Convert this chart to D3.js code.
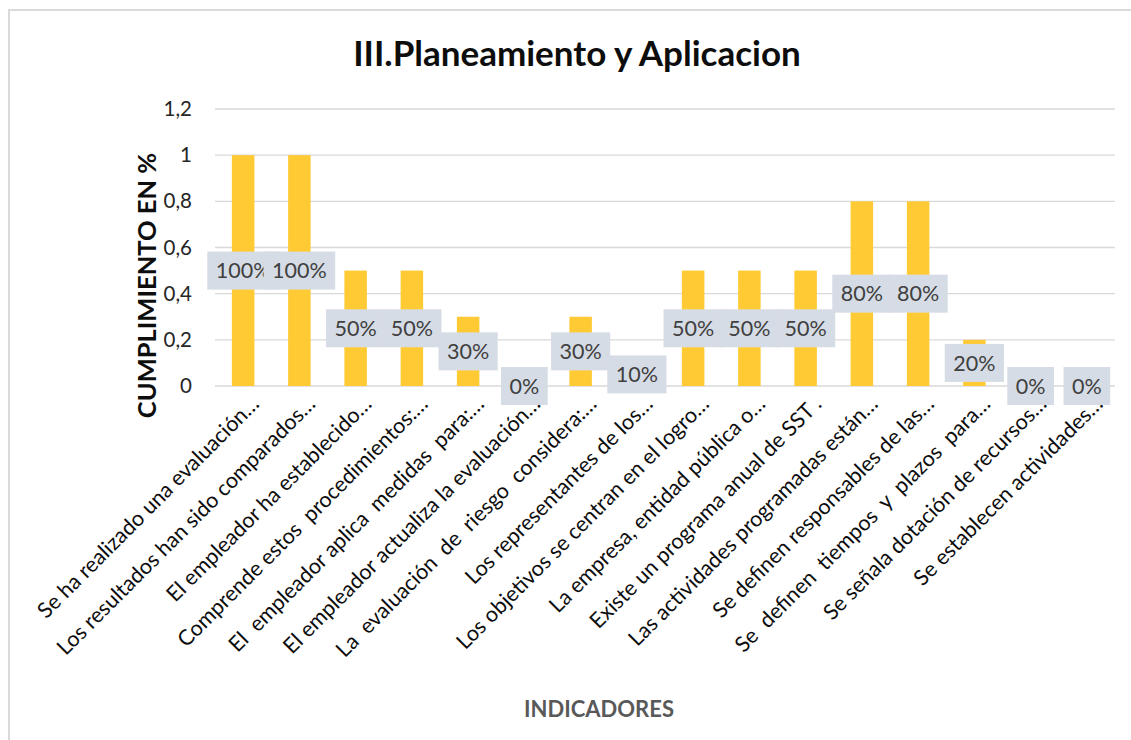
<!DOCTYPE html>
<html>
<head>
<meta charset="utf-8">
<script src="https://cdn.jsdelivr.net/npm/d3@7"></script>
<style>
  html, body { margin: 0; padding: 0; background: #fff; }
  svg { display: block; font-family: Lato, "Open Sans", sans-serif; }
</style>
</head>
<body>
<svg id="chart" width="1131" height="740"></svg>
<script>
// Indicators of section III (Planeamiento y Aplicacion) and their compliance ratio
const categories = [
  "Se ha realizado una evaluación…",
  "Los resultados han sido comparados…",
  "El empleador ha establecido…",
  "Comprende estos  procedimientos:…",
  "El  empleador aplica  medidas  para:…",
  "El empleador actualiza la evaluación…",
  "La  evaluación  de  riesgo  considera:…",
  "Los representantes de los…",
  "Los objetivos se centran en el logro…",
  "La empresa, entidad pública o…",
  "Existe un programa anual de SST .",
  "Las actividades programadas están…",
  "Se definen responsables de las…",
  "Se  definen  tiempos  y  plazos  para…",
  "Se señala dotación de recursos…",
  "Se establecen actividades…"
];
const values = [1, 1, 0.5, 0.5, 0.3, 0, 0.3, 0.1, 0.5, 0.5, 0.5, 0.8, 0.8, 0.2, 0, 0];
const yTicks = [0, 0.2, 0.4, 0.6, 0.8, 1, 1.2];
const yTickLabels = ["0", "0,2", "0,4", "0,6", "0,8", "1", "1,2"];

const svg = d3.select("#chart");
const plot = { left: 215, right: 1115, top: 109, bottom: 386 };

// chart frame
svg.append("rect")
  .attr("x", 9).attr("y", 10).attr("width", 1140).attr("height", 760)
  .attr("fill", "none").attr("stroke", "#d9d9d9").attr("stroke-width", 2);

const x = d3.scaleBand()
  .domain(categories)
  .range([plot.left, plot.right])
  .paddingInner(0.6).paddingOuter(0.3);

const y = d3.scaleLinear().domain([0, 1.2]).range([plot.bottom, plot.top]);

// horizontal gridlines
svg.append("g")
  .selectAll("line")
  .data(yTicks)
  .join("line")
  .attr("x1", plot.left).attr("x2", plot.right)
  .attr("y1", d => y(d)).attr("y2", d => y(d))
  .attr("stroke", "#d9d9d9").attr("stroke-width", 1.3);

// y axis tick labels
const yAxis = d3.axisLeft(y).tickValues(yTicks)
  .tickFormat((d, i) => yTickLabels[i]).tickSize(0).tickPadding(23);
const gy = svg.append("g").attr("transform", `translate(${plot.left},0)`).call(yAxis);
gy.select(".domain").remove();
gy.selectAll("text")
  .attr("font-family", "Lato, 'Open Sans', sans-serif")
  .attr("font-size", 20.5).attr("fill", "#262626");

// bars
svg.append("g")
  .selectAll("rect")
  .data(values)
  .join("rect")
  .attr("x", (d, i) => x(categories[i]))
  .attr("width", x.bandwidth())
  .attr("y", d => y(d))
  .attr("height", d => y(0) - y(d))
  .attr("fill", "#ffca33");

// value labels centred on each bar, on a boxed background
const lbl = svg.append("g");
values.forEach((v, i) => {
  const cx = x(categories[i]) + x.bandwidth() / 2;
  const cy = y(v / 2);
  const g = lbl.append("g");
  const t = g.append("text")
    .attr("x", cx).attr("y", cy)
    .attr("text-anchor", "middle").attr("dy", "0.36em")
    .attr("font-size", 21.5).attr("fill", "#404040")
    .text(Math.round(v * 100) + "%");
  const w = t.node().getComputedTextLength() + 17;
  g.insert("rect", "text")
    .attr("x", cx - w / 2).attr("y", cy - 19)
    .attr("width", w).attr("height", 38)
    .attr("fill", "#d6dce5");
});

// rotated category labels
svg.append("g")
  .selectAll("text")
  .data(categories)
  .join("text")
  .attr("transform", d => `translate(${x(d) + x.bandwidth() / 2 + 12},${plot.bottom + 14}) rotate(-45)`)
  .attr("text-anchor", "end")
  .attr("dy", "0.35em")
  .attr("font-size", 21.5).attr("fill", "#0d0d0d")
  .attr("xml:space", "preserve")
  .text(d => d);

// title
svg.append("text")
  .attr("x", 577).attr("y", 66)
  .attr("text-anchor", "middle")
  .attr("font-size", 35).attr("font-weight", "bold").attr("fill", "#0d0d0d")
  .text("III.Planeamiento y Aplicacion");

// y axis title
svg.append("text")
  .attr("transform", `translate(156,${(plot.top + plot.bottom) / 2 + 38}) rotate(-90)`)
  .attr("text-anchor", "middle")
  .attr("font-size", 25.5).attr("font-weight", "bold").attr("fill", "#0d0d0d")
  .text("CUMPLIMIENTO EN %");

// x axis title
svg.append("text")
  .attr("x", 599).attr("y", 717)
  .attr("text-anchor", "middle")
  .attr("font-size", 22).attr("font-weight", "bold").attr("fill", "#595959")
  .text("INDICADORES");
</script>
</body>
</html>
